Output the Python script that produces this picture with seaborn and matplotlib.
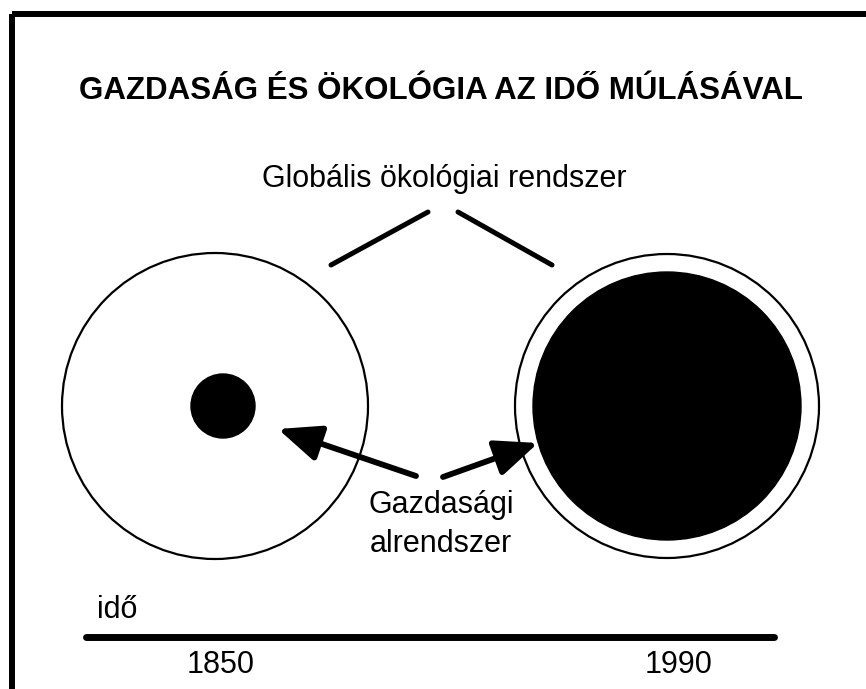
import matplotlib
matplotlib.use("Agg")
import matplotlib.pyplot as plt
import seaborn as sns
from matplotlib.patches import Circle, Rectangle

# diagram content
title = "GAZDASÁG ÉS ÖKOLÓGIA AZ IDŐ MÚLÁSÁVAL"
eco_label = "Globális ökológiai rendszer"
econ_label = ["Gazdasági", "alrendszer"]
axis_label = "idő"
years = [1850, 1990]
eco_radius = [153, 152]      # global ecosystem size (px)
econ_radius = [32, 134]      # economic subsystem size (px)

sns.set_theme(style="white")
plt.rcParams['font.family'] = ['Liberation Sans', 'DejaVu Sans']
plt.rcParams['text.color'] = 'black'

fig = plt.figure(figsize=(8.66, 6.89), dpi=100)
ax = fig.add_axes([0, 0, 1, 1])
ax.set_xlim(0, 866)
ax.set_ylim(689, 0)
ax.set_aspect('equal')
ax.axis('off')

# outer frame (runs off the right and bottom edges)
ax.add_patch(Rectangle((12, 14), 900, 720, fill=False, lw=4.3, ec='black',
                       joinstyle='miter'))

ax.text(441, 99, title, ha='center', va='baseline', fontsize=22.5,
        fontweight='bold')
ax.text(444, 187, eco_label, ha='center', va='baseline', fontsize=22)

# lines pointing at both ecosystems
ax.plot([331, 428], [265, 212], color='black', lw=3.6, solid_capstyle='round')
ax.plot([458, 552], [212, 265], color='black', lw=3.6, solid_capstyle='round')

centers_x = [215, 667]
econ_x = [223, 667]
cy = 406
for i in range(len(years)):
    ax.add_patch(Circle((centers_x[i], cy), eco_radius[i], fill=False,
                        ec='black', lw=1.6))
    ax.add_patch(Circle((econ_x[i], cy), econ_radius[i], color='black'))

# arrows to the economic subsystems
arrow_kw = dict(arrowstyle='-|>,head_length=1.3,head_width=0.55',
                color='black', lw=4.2, mutation_scale=20, shrinkA=0, shrinkB=0,
                capstyle='round')
ax.annotate('', xy=(278, 429), xytext=(416, 476), arrowprops=arrow_kw)
ax.annotate('', xy=(538, 443), xytext=(443, 477), arrowprops=arrow_kw)

for label, base in zip(econ_label, [513, 552]):
    ax.text(441, base, label, ha='center', va='baseline', fontsize=22)

# time axis
line_x = [86, 774]
sns.lineplot(x=line_x, y=[637, 637], color='black', lw=5, ax=ax,
             solid_capstyle='round')
ax.text(97, 618, axis_label, ha='left', va='baseline', fontsize=22)
year_x = [221, 679]
for x, y in zip(year_x, years):
    ax.text(x, 673, str(y), ha='center', va='baseline', fontsize=22)

fig.savefig("out.png", dpi=100, facecolor='white')
